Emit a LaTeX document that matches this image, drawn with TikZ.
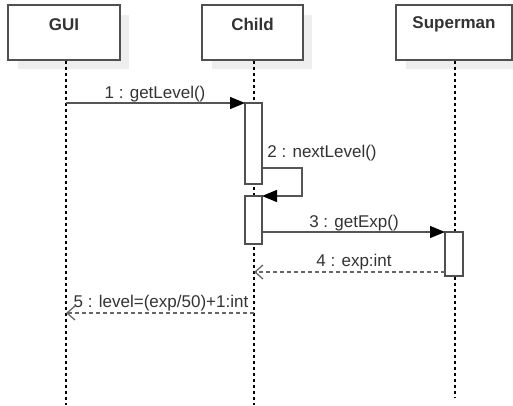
\documentclass[tikz,border=0pt]{standalone}
\usepackage{fontspec}
\setmainfont{Liberation Sans}
\usetikzlibrary{arrows.meta}
\definecolor{boxline}{HTML}{505050}
\definecolor{shadowc}{HTML}{EEEEEE}
\definecolor{txt}{HTML}{333333}
\definecolor{msg}{HTML}{555555}
\definecolor{retc}{HTML}{666666}
\tikzset{
  x=1pt, y=-1pt,
  objbox/.style={draw=boxline, line width=1.3pt, fill=white, minimum width=#1, minimum height=55pt, inner sep=0pt},
  objname/.style={font=\fontsize{17}{20}\selectfont\bfseries, text=txt, inner sep=0pt},
  shadowbox/.style={fill=shadowc, draw=none},
  lifeline/.style={draw=black, line width=1.2pt, dash pattern=on 3pt off 3pt},
  actbox/.style={draw=boxline, line width=1.3pt, fill=white},
  callmsg/.style={draw=msg, line width=1.3pt, -{Triangle[length=15pt,width=12pt,color=black]}},
  retmsg/.style={draw=retc, line width=1.3pt, dash pattern=on 4pt off 3pt, -{Straight Barb[length=8pt,width=14pt]}},
  lbl/.style={font=\fontsize{17}{20}\selectfont, text=txt, inner sep=0pt}
}
\begin{document}
\begin{tikzpicture}
\useasboundingbox (0,0) rectangle (513,405);
% shadows
\fill[shadowbox] (18,15) rectangle (129,69);
\fill[shadowbox] (212,15) rectangle (312,69);
\fill[shadowbox] (406,15) rectangle (513,69);
% object boxes
\node[objbox=112pt] (gui) at (64,32.5) {};
\node[objbox=101pt] (child) at (252.5,32.5) {};
\node[objbox=116pt] (sup) at (454,32.5) {};
\node[objname] (guin) at (64,24.5) {GUI};
\node[objname] (childn) at (252.5,24.5) {Child};
\node[objname] (supn) at (454,24.5) {Superman};
% lifeline ends
\coordinate (guiend) at (66,405);
\coordinate (childend) at (254,405);
\coordinate (supend) at (455,397);
\draw[lifeline] (gui.south -| guiend) -- (guiend);
\draw[lifeline] (child.south -| childend) -- (childend);
\draw[lifeline] (sup.south -| supend) -- (supend);
% activations
\draw[actbox] (245,103) rectangle (262,184);
\draw[actbox] (245,196) rectangle (262,244);
\draw[actbox] (445,232) rectangle (463,276);
% message points
\coordinate (m1s) at (66,103);
\coordinate (m1e) at (245,103);
\coordinate (m2s) at (262,168);
\coordinate (m2a) at (302,168);
\coordinate (m2b) at (302,196);
\coordinate (m2e) at (262,196);
\coordinate (m3s) at (262,232);
\coordinate (m3e) at (445,232);
\coordinate (m4s) at (445,272);
\coordinate (m4e) at (254,272);
\coordinate (m5s) at (254,313);
\coordinate (m5e) at (66,313);
\draw[callmsg] (m1s) -- (m1e);
\draw[callmsg] (m2s) -- (m2a) -- (m2b) -- (m2e);
\draw[callmsg] (m3s) -- (m3e);
\draw[retmsg] (m4s) -- (m4e);
\draw[retmsg] (m5s) -- (m5e);
% labels
\node[lbl] (l1) at (155,94) {1 : getLevel()};
\node[lbl] (l2) at (322,153) {2 : nextLevel()};
\node[lbl] (l3) at (354,223) {3 : getExp()};
\node[lbl] (l4) at (354,262) {4 : exp:int};
\node[lbl] (l5) at (161,303) {5 : level=(exp/50)+1:int};
\end{tikzpicture}
\end{document}
